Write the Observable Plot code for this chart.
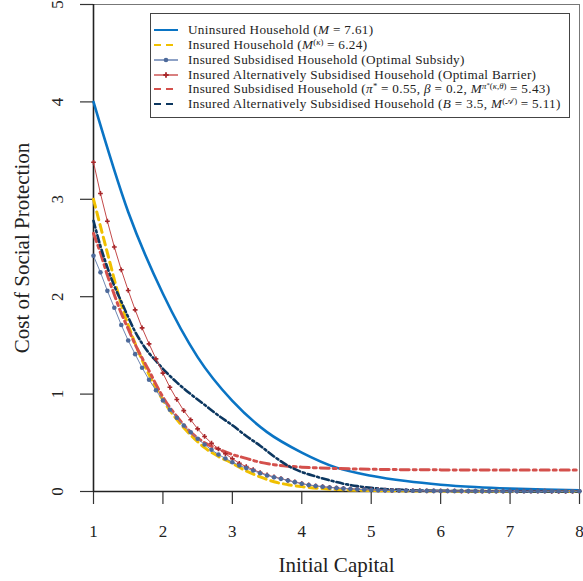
<!DOCTYPE html>
<html><head><meta charset="utf-8">
<script src="https://cdn.jsdelivr.net/npm/d3@7"></script>
<script src="https://cdn.jsdelivr.net/npm/@observablehq/plot@0.6"></script>
<style>
body{margin:0;background:#fff;}
#wrap{position:relative;width:583px;height:581px;}
#legend{position:absolute;left:150px;top:13px;width:420px;height:105px;border:1px solid #444;background:#fff;font-family:"Liberation Serif",serif;font-size:13.2px;letter-spacing:0.33px;color:#222;box-sizing:border-box;}
.row{position:absolute;left:0;height:16px;width:418px;white-space:nowrap;}
.row svg{position:absolute;left:0;top:0;}
.row span{position:absolute;left:37px;top:0;line-height:16px;}
sup{font-size:0.66em;vertical-align:0.45em;line-height:0;letter-spacing:0;}
sup sup{font-size:0.8em;vertical-align:0.3em;}
</style>
</head><body>
<div id="wrap"><div id="chart"></div><div id="legend"></div></div>
<script>
// ---- tick labels / axis titles
const xTicks = [1, 2, 3, 4, 5, 6, 7, 8];
const yTicks = [0, 1, 2, 3, 4, 5];
const xTitle = "Initial Capital";
const yTitle = "Cost of Social Protection";

// ---- series names (legend)
const seriesLabels = [
  "Uninsured Household (<i>M</i> = 7.61)",
  "Insured Household (<i>M</i><sup>(<i>κ</i>)</sup> = 6.24)",
  "Insured Subsidised Household (Optimal Subsidy)",
  "Insured Alternatively Subsidised Household (Optimal Barrier)",
  "Insured Subsidised Household (<i>π</i><sup>*</sup> = 0.55, <i>β</i> = 0.2, <i>M</i><sup><i>π</i><sup>*</sup>(<i>κ</i>,<i>θ</i>)</sup> = 5.43)",
  "Insured Alternatively Subsidised Household (<i>B</i> = 3.5, <i>M</i><sup>(𝒜)</sup> = 5.11)"
];

// ---- Uninsured (blue solid)
const uninsuredX = [1, 1.5, 2, 2.5, 3, 3.5, 4, 4.5, 5, 5.5, 6, 6.5, 7, 7.5, 8];
const uninsuredY = [4.00, 2.87, 2.03, 1.38, 0.93, 0.61, 0.40, 0.245, 0.162, 0.107, 0.07, 0.046, 0.03, 0.019, 0.012];

// ---- Insured (yellow dashed)
const insuredX = [1, 1.2, 1.4, 1.6, 1.8, 2, 2.2, 2.4, 2.6, 2.8, 3, 3.2, 3.4, 3.6, 3.8, 4, 4.5, 5, 6, 7, 8];
const insuredY = [3.00, 2.45, 1.92, 1.52, 1.20, 0.94, 0.74, 0.58, 0.45, 0.36, 0.29, 0.21, 0.15, 0.10, 0.07, 0.05, 0.02, 0.01, 0.004, 0.001, 0];

// ---- grid for the marker series
const gridX = [1.0,1.1,1.2,1.3,1.4,1.5,1.6,1.7,1.8,1.9,2.0,2.1,2.2,2.3,2.4,2.5,2.6,2.7,2.8,2.9,3.0,3.1,3.2,3.3,3.4,3.5,3.6,3.7,3.8,3.9,4.0,4.1,4.2,4.3,4.4,4.5,4.6,4.7,4.8,4.9,5.0,5.1,5.2,5.3,5.4,5.5,5.6,5.7,5.8,5.9,6.0,6.1,6.2,6.3,6.4,6.5,6.6,6.7,6.8,6.9,7.0,7.1,7.2,7.3,7.4,7.5,7.6,7.7,7.8,7.9,8.0];

// ---- Insured Subsidised (Optimal Subsidy) — slate circles
const optSubsidyY = [2.42,2.25,2.06,1.886,1.71,1.55,1.41,1.27,1.147,1.04,0.934,0.84,0.757,0.678,0.609,0.541,0.482,0.428,0.38,0.339,0.30,0.267,0.24,0.215,0.188,0.164,0.147,0.13,0.113,0.096,0.079,0.066,0.056,0.048,0.041,0.035,0.03,0.026,0.022,0.019,0.016,0.014,0.012,0.011,0.010,0.009,0.008,0.007,0.0065,0.006,0.0055,0.005,0.0047,0.0044,0.0041,0.0038,0.0036,0.0034,0.0032,0.003,0.0028,0.0027,0.0026,0.0025,0.0024,0.0023,0.0022,0.0021,0.002,0.002,0.0019];

// ---- Insured Alternatively Subsidised (Optimal Barrier) — red crosses
const optBarrierY = [3.38,3.06,2.775,2.51,2.276,2.064,1.865,1.68,1.516,1.362,1.215,1.07,0.945,0.83,0.736,0.643,0.565,0.496,0.438,0.387,0.337,0.29,0.255,0.225,0.195,0.17,0.15,0.132,0.115,0.098,0.082,0.068,0.058,0.05,0.043,0.037,0.032,0.028,0.024,0.021,0.018,0.016,0.014,0.012,0.011,0.01,0.009,0.008,0.0075,0.007,0.0065,0.006,0.0055,0.005,0.0047,0.0044,0.0041,0.0038,0.0036,0.0034,0.0032,0.003,0.0029,0.0028,0.0027,0.0026,0.0025,0.0024,0.0023,0.0022,0.0021];

// ---- Insured Subsidised (pi*=0.55, beta=0.2) — red dash-dot
const subsidisedX = [1, 1.1, 1.2, 1.3, 1.4, 1.5, 1.6, 1.7, 1.8, 1.9, 2, 2.2, 2.4, 2.6, 2.8, 3, 3.2, 3.4, 3.6, 3.8, 4, 4.5, 5, 6, 7, 8];
const subsidisedY = [2.65, 2.45, 2.22, 2.02, 1.83, 1.67, 1.51, 1.37, 1.24, 1.10, 0.97, 0.77, 0.61, 0.50, 0.435, 0.38, 0.34, 0.30, 0.275, 0.26, 0.25, 0.236, 0.228, 0.222, 0.22, 0.22];

// ---- Insured Alternatively Subsidised (B=3.5) — navy dash-dot
const altX = [1, 1.1, 1.2, 1.3, 1.4, 1.5, 1.6, 1.7, 1.8, 1.9, 2, 2.2, 2.4, 2.6, 2.8, 3, 3.2, 3.4, 3.6, 3.8, 4, 4.2, 4.4, 4.6, 4.8, 5, 5.5, 6, 7, 8];
const altY = [2.78, 2.52, 2.30, 2.11, 1.95, 1.79, 1.64, 1.52, 1.42, 1.34, 1.26, 1.12, 1.00, 0.89, 0.78, 0.68, 0.57, 0.47, 0.36, 0.265, 0.20, 0.155, 0.115, 0.08, 0.055, 0.037, 0.015, 0.007, 0.002, 0];

const pts = (xs, ys) => xs.map((x, i) => ({x, y: ys[i]}));

const C = {
  blue: "#0a74c4", yellow: "#f0c000", slateLine: "#7088b2", slateDot: "#4d6a9a",
  redLine: "#c44a4a", redDot: "#a8272a", redDash: "#d4504c", navy: "#0c3760"
};
const font = "'Liberation Serif', 'Times New Roman', serif";

const chart = Plot.plot({
  width: 583, height: 581,
  marginLeft: 93, marginRight: 4, marginTop: 4, marginBottom: 90,
  x: {domain: [1, 8]},
  y: {domain: [0, 5]},
  style: {fontFamily: font, background: "white", color: "#222"},
  marks: [
    Plot.frame({stroke: "#777", strokeWidth: 1}),
    Plot.axisX(xTicks, {tickSize: 13, tickFormat: () => "", stroke: "#333", strokeWidth: 1.2, label: null}),
    Plot.axisY(yTicks, {tickSize: 13, tickFormat: () => "", stroke: "#333", strokeWidth: 1.2, label: null}),
    Plot.ruleX([1], {stroke: "#222", strokeWidth: 1.6}),
    Plot.ruleY([0], {stroke: "#222", strokeWidth: 1.6}),
    Plot.text(xTicks, {x: d => d, y: () => 0, dy: 40, text: d => String(d), fontSize: 17, lineAnchor: "middle", fill: "#222"}),
    Plot.text(yTicks, {x: () => 1, y: d => d, dx: -36, rotate: -90, text: d => String(d), fontSize: 17, lineAnchor: "middle", fill: "#222"}),
    Plot.text([xTitle], {x: () => 4.5, y: () => 0, dy: 74, text: d => d, fontSize: 21, letterSpacing: 1, lineAnchor: "middle", fill: "#222"}),
    Plot.text([yTitle], {x: () => 1, y: () => 2.5, dx: -71, rotate: -90, text: d => d, fontSize: 21, letterSpacing: 0.8, lineAnchor: "middle", fill: "#222"}),

    Plot.line(pts(uninsuredX, uninsuredY), {x: "x", y: "y", stroke: C.blue, strokeWidth: 2.6, curve: "monotone-x"}),
    Plot.line(pts(insuredX, insuredY), {x: "x", y: "y", stroke: C.yellow, strokeWidth: 3, strokeDasharray: "8,5", curve: "monotone-x"}),
    Plot.line(pts(subsidisedX, subsidisedY), {x: "x", y: "y", stroke: C.redDash, strokeWidth: 3, strokeDasharray: "9,4,3,4", curve: "monotone-x"}),
    Plot.line(pts(altX, altY), {x: "x", y: "y", stroke: C.navy, strokeWidth: 2.6, strokeDasharray: "7,3,2,3", curve: "monotone-x"}),
    Plot.line(pts(gridX, optBarrierY), {x: "x", y: "y", stroke: C.redLine, strokeWidth: 1}),
    Plot.dot(pts(gridX, optBarrierY), {x: "x", y: "y", fill: C.redDot, symbol: "cross", r: 2}),
    Plot.line(pts(gridX, optSubsidyY), {x: "x", y: "y", stroke: C.slateLine, strokeWidth: 1}),
    Plot.dot(pts(gridX, optSubsidyY), {x: "x", y: "y", fill: C.slateDot, symbol: "circle", r: 2.3})
  ]
});
document.getElementById("chart").appendChild(chart);

// ---- legend
const legendStyles = [
  {stroke: C.blue, w: 2, dash: null, marker: null},
  {stroke: C.yellow, w: 2, dash: "7,5", marker: null},
  {stroke: "#8ea2c6", w: 2, dash: null, marker: "circle", mfill: C.slateDot},
  {stroke: "#d98080", w: 2, dash: null, marker: "cross", mfill: C.redDot},
  {stroke: C.redDash, w: 2, dash: "7,5", marker: null},
  {stroke: C.navy, w: 2, dash: "7,5", marker: null}
];
const legend = document.getElementById("legend");
seriesLabels.forEach((lab, i) => {
  const s = legendStyles[i];
  const row = document.createElement("div");
  row.className = "row";
  row.style.top = (16 + i * 14.85 - 8) + "px";
  let mk = "";
  if (s.marker === "circle") mk = `<circle cx="15" cy="8" r="2.3" fill="${s.mfill}"/>`;
  if (s.marker === "cross") mk = `<path transform="translate(15,8)" d="${d3.symbol(d3.symbolCross, 16)()}" fill="${s.mfill}"/>`;
  row.innerHTML = `<svg width="32" height="16"><line x1="3" x2="27" y1="8" y2="8" stroke="${s.stroke}" stroke-width="${s.w}" ${s.dash ? `stroke-dasharray="${s.dash}"` : ""}/>${mk}</svg><span>${lab}</span>`;
  legend.appendChild(row);
});
</script>
</body></html>
